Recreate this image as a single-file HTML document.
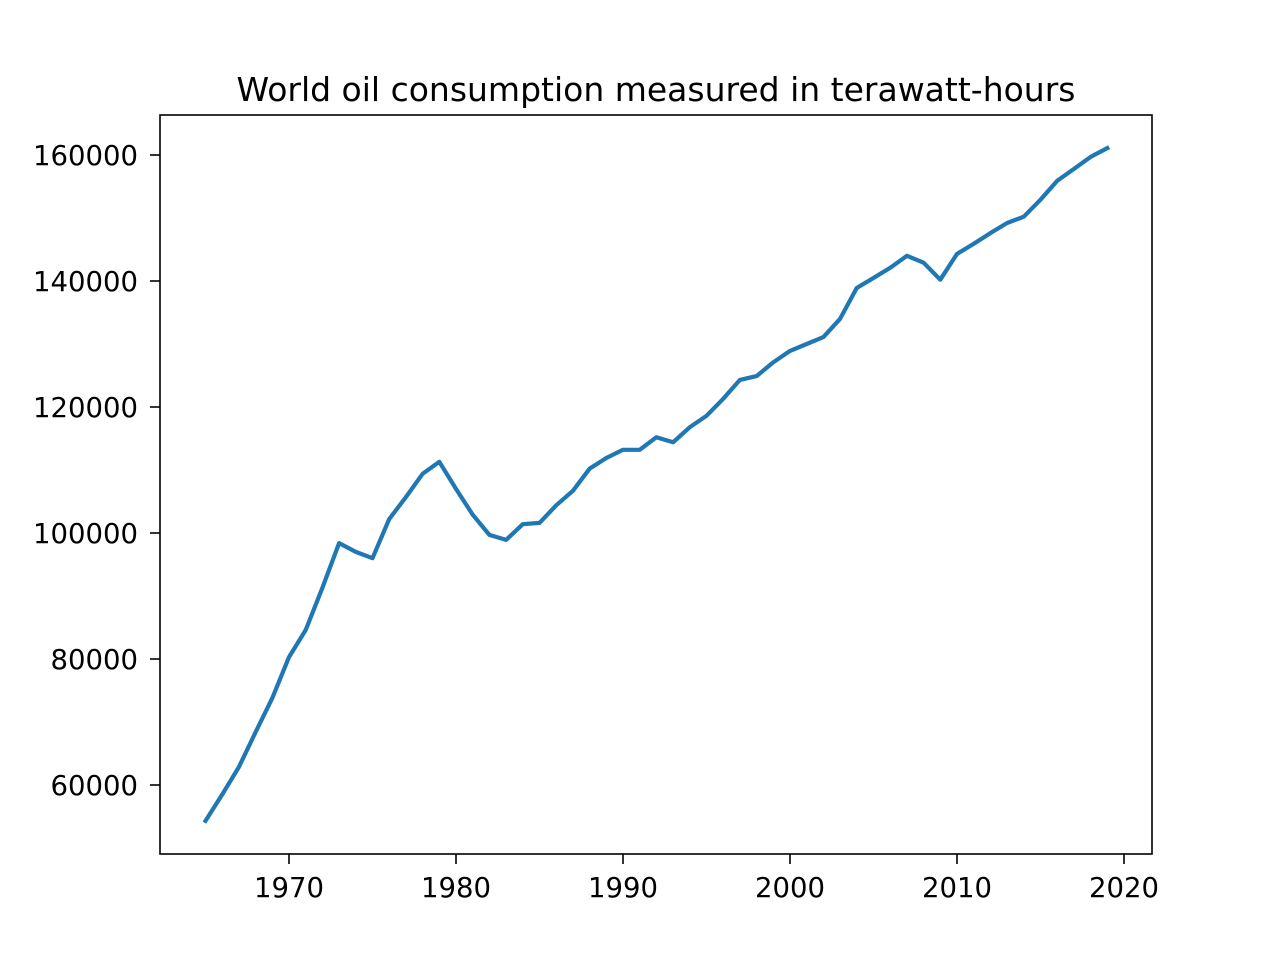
<!DOCTYPE html>
<html><head><meta charset="utf-8"><style>
body{margin:0;background:#fff}
svg text{font-family:"DejaVu Sans","Liberation Sans",sans-serif;fill:#000}
</style></head><body>
<svg width="1280" height="960" xmlns="http://www.w3.org/2000/svg">
<rect width="1280" height="960" fill="#fff"/>
<text x="656" y="101" font-size="33" text-anchor="middle">World oil consumption measured in terawatt-hours</text>
<g id="ticks"></g>
<path id="line" fill="none" stroke="#1f77b4" stroke-width="4.2" stroke-linejoin="round" stroke-linecap="square"/>
<rect x="160" y="115" width="992" height="739" fill="none" stroke="#000" stroke-width="1.6"/>
</svg>
<script>
const years=[];for(let y=1965;y<=2019;y++)years.push(y);
const values=[54300,58500,62860,68400,73800,80300,84600,91300,98400,97000,96000,102200,105700,109400,111300,107000,102900,99700,98900,101400,101600,104400,106700,110200,111900,113200,113200,115200,114400,116800,118600,121300,124300,124900,127100,128900,130000,131100,134000,138900,140500,142100,144000,142900,140200,144300,145900,147600,149200,150200,152900,155900,157800,159700,161100];
const xTicks=[1970,1980,1990,2000,2010,2020];
const yTicks=[60000,80000,100000,120000,140000,160000];
const xs=v=>289+(v-1970)*(1124-289)/50;
const ys=v=>785-(v-60000)*0.0063;
const NS="http://www.w3.org/2000/svg";
document.getElementById('line').setAttribute('d',years.map((y,i)=>(i?'L':'M')+xs(y).toFixed(1)+','+ys(values[i]).toFixed(1)).join(''));
const g=document.getElementById('ticks');
xTicks.forEach(t=>{const x=xs(t);
const l=document.createElementNS(NS,'line');l.setAttribute('x1',x);l.setAttribute('x2',x);l.setAttribute('y1',854);l.setAttribute('y2',864);l.setAttribute('stroke','#000');l.setAttribute('stroke-width','1.6');

g.appendChild(l);
const tx=document.createElementNS(NS,'text');tx.setAttribute('x',x);tx.setAttribute('y',897);tx.setAttribute('font-size','27.5');tx.setAttribute('text-anchor','middle');tx.textContent=t;

g.appendChild(tx);});
yTicks.forEach(t=>{const y=ys(t);
const l=document.createElementNS(NS,'line');l.setAttribute('x1',150);l.setAttribute('x2',160);l.setAttribute('y1',y);l.setAttribute('y2',y);l.setAttribute('stroke','#000');l.setAttribute('stroke-width','1.6');

g.appendChild(l);
const tx=document.createElementNS(NS,'text');tx.setAttribute('x',138);tx.setAttribute('y',y+10);tx.setAttribute('font-size','27.5');tx.setAttribute('text-anchor','end');tx.textContent=t;

g.appendChild(tx);});
</script>
</body></html>
